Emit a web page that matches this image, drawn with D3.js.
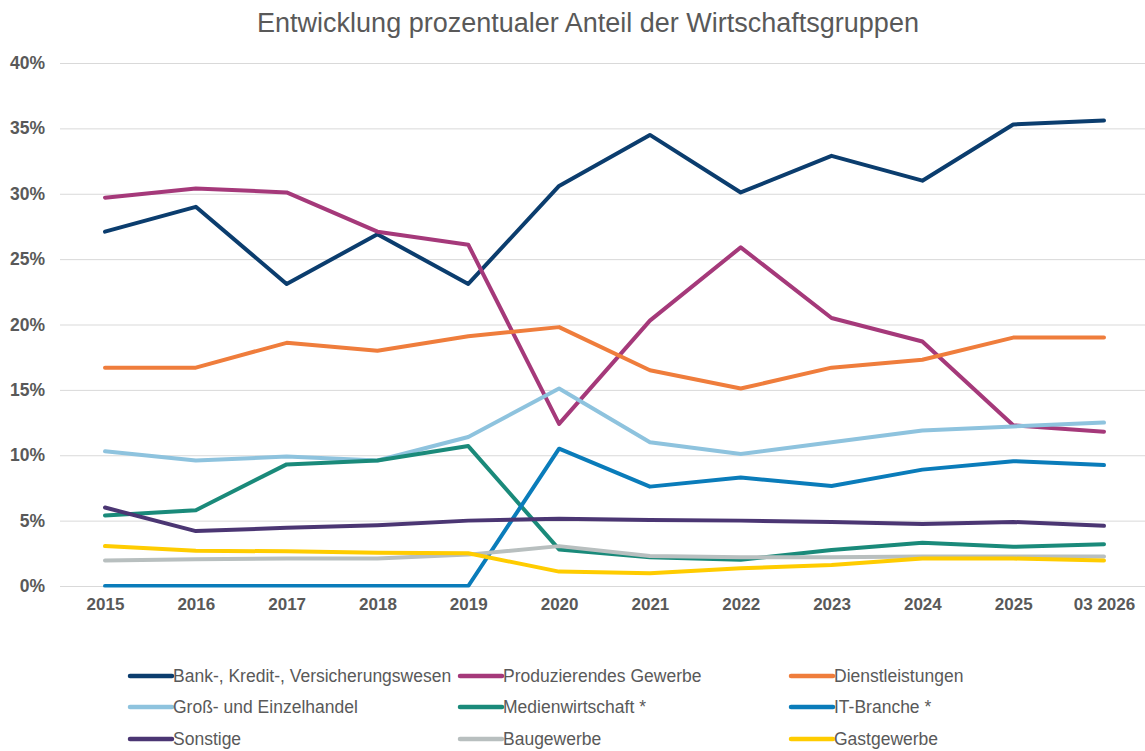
<!DOCTYPE html>
<html><head><meta charset="utf-8">
<script src="https://cdn.jsdelivr.net/npm/d3@7"></script>
<style>body{margin:0;background:#fff}svg{display:block}text{font-family:"Liberation Sans",Arial,sans-serif}</style>
</head><body><svg id="c" width="1145" height="751"></svg>
<script>
const categories = ["2015","2016","2017","2018","2019","2020","2021","2022","2023","2024","2025","03 2026"];
const yTicks = [0,5,10,15,20,25,30,35,40];
const seriesNames = ["Bank-, Kredit-, Versicherungswesen","Produzierendes Gewerbe","Dienstleistungen","Groß- und Einzelhandel","Medienwirtschaft *","IT-Branche *","Sonstige","Baugewerbe","Gastgewerbe"];
const seriesColors = ["#0b3d6e","#a5397a","#ef7d3c","#8ec3de","#1a8a7a","#0a7cba","#4b3673","#b8bfbf","#ffcc00"];
const bank = [27.1,29.0,23.1,26.9,23.1,30.6,34.5,30.1,32.9,31.0,35.3,35.6];
const produzierend = [29.7,30.4,30.1,27.1,26.1,12.4,20.3,25.9,20.5,18.7,12.3,11.8];
const dienst = [16.7,16.7,18.6,18.0,19.1,19.8,16.5,15.1,16.7,17.3,19.0,19.0];
const handel = [10.3,9.6,9.9,9.6,11.4,15.1,11.0,10.1,11.0,11.9,12.2,12.5];
const medien = [5.4,5.8,9.3,9.6,10.7,2.8,2.2,2.0,2.75,3.3,3.0,3.2];
const it = [0,0,0,0,0,10.5,7.6,8.3,7.65,8.9,9.55,9.25];
const sonstige = [6.0,4.2,4.45,4.65,5.0,5.15,5.05,5.0,4.9,4.75,4.9,4.6];
const bau = [1.95,2.05,2.1,2.1,2.4,3.05,2.3,2.2,2.2,2.25,2.25,2.25];
const gast = [3.05,2.7,2.65,2.55,2.5,1.1,0.97,1.35,1.6,2.1,2.1,1.95];
const seriesValues = [bank,produzierend,dienst,handel,medien,it,sonstige,bau,gast];

const svg = d3.select("#c");
const x = d3.scalePoint().domain(categories).range([105,1104]);
const y = d3.scaleLinear().domain([0,40]).range([586,63]);

svg.append("text").attr("x",588).attr("y",32).attr("text-anchor","middle")
  .attr("font-size",27).attr("fill","#595959").text("Entwicklung prozentualer Anteil der Wirtschaftsgruppen");

// gridlines
const yAxis = d3.axisLeft(y).tickValues(yTicks).tickSize(-1085).tickFormat(d=>d+"%");
const gy = svg.append("g").attr("transform","translate(60,0)").call(yAxis);
gy.select(".domain").remove();
gy.selectAll(".tick line").attr("stroke","#d9d9d9").attr("stroke-width",1);
gy.selectAll(".tick text").attr("x",-15).attr("font-size",17.5).attr("fill","#595959").attr("font-weight","bold");

const xAxis = d3.axisBottom(x).tickSize(0);
const gx = svg.append("g").attr("transform","translate(0,586)").call(xAxis);
gx.select(".domain").remove();
gx.selectAll(".tick text").attr("dy",0).attr("y",24).attr("font-size",17).attr("fill","#595959").attr("font-weight","bold");

svg.append("clipPath").attr("id","pc").append("rect").attr("x",0).attr("y",0).attr("width",1145).attr("height",587.5);

const line = d3.line().x((d,i)=>x(categories[i])).y(d=>y(d));
const gl = svg.append("g").attr("clip-path","url(#pc)");
seriesValues.forEach((vals,k)=>{
  gl.append("path").datum(vals).attr("d",line).attr("fill","none")
    .attr("stroke",seriesColors[k]).attr("stroke-width",4)
    .attr("stroke-linejoin","round").attr("stroke-linecap","round");
});

// legend
const colX = [130,460,791];
const rowY = [676,707,739];
seriesNames.forEach((n,k)=>{
  const cx = colX[k%3], cy = rowY[Math.floor(k/3)];
  const g = svg.append("g");
  g.append("line").attr("x1",cx).attr("x2",cx+42).attr("y1",cy).attr("y2",cy)
    .attr("stroke",seriesColors[k]).attr("stroke-width",4.5).attr("stroke-linecap","round");
  g.append("text").attr("x",cx+43).attr("y",cy+6).attr("font-size",17.5).attr("fill","#595959").text(n);
});
</script></body></html>
